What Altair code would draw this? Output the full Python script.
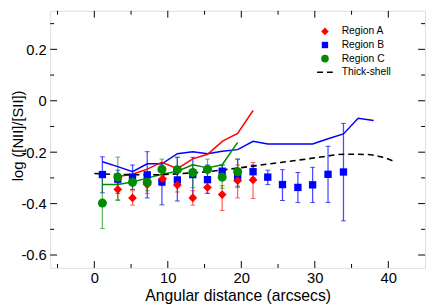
import altair as alt
import pandas as pd

# ---------------- data ----------------
# Region A (red diamonds)
a_x = [3.2, 5.2, 7.2, 9.3, 11.3, 13.4, 15.4, 17.4, 19.5, 21.6]
a_y = [-0.345, -0.378, -0.326, -0.303, -0.328, -0.378, -0.337, -0.365, -0.311, -0.308]
a_hi = [-0.320, -0.350, -0.295, -0.270, -0.300, -0.350, -0.310, -0.330, -0.250, -0.240]
a_lo = [-0.385, -0.406, -0.360, -0.330, -0.355, -0.406, -0.360, -0.427, -0.378, -0.380]

# Region B (blue squares)
b_x = [1.1, 3.2, 5.2, 7.2, 9.2, 11.3, 13.4, 15.4, 17.4, 19.5, 21.6, 23.6, 25.6, 27.7, 29.7, 31.8, 33.9]
b_y = [-0.287, -0.305, -0.297, -0.288, -0.316, -0.308, -0.287, -0.307, -0.274, -0.299, -0.276, -0.297, -0.326, -0.337, -0.327, -0.286, -0.277]
b_hi = [-0.218, -0.270, -0.250, -0.198, -0.250, -0.220, -0.220, -0.250, -0.250, -0.227, -0.250, -0.270, -0.268, -0.279, -0.259, -0.177, -0.088]
b_lo = [-0.358, -0.360, -0.345, -0.378, -0.405, -0.390, -0.370, -0.360, -0.300, -0.336, -0.300, -0.326, -0.388, -0.396, -0.396, -0.396, -0.467]

# Region C (green circles)
c_x = [1.1, 3.2, 5.2, 7.2, 9.2, 11.3, 13.4, 15.4, 17.4, 19.5]
c_y = [-0.398, -0.297, -0.317, -0.317, -0.267, -0.268, -0.279, -0.267, -0.297, -0.276]
c_hi = [-0.290, -0.219, -0.290, -0.290, -0.227, -0.220, -0.250, -0.227, -0.250, -0.227]
c_lo = [-0.497, -0.388, -0.345, -0.350, -0.289, -0.326, -0.338, -0.300, -0.340, -0.332]

# Lines (no markers)
bl_x = [1.1, 3.2, 5.2, 7.2, 9.2, 11.3, 13.4, 15.4, 17.4, 19.5, 21.6, 23.6, 25.6, 27.7, 29.7, 31.8, 33.9, 35.9, 38.0]
bl_y = [-0.237, -0.256, -0.276, -0.245, -0.245, -0.206, -0.198, -0.206, -0.196, -0.190, -0.158, -0.168, -0.168, -0.168, -0.168, -0.148, -0.129, -0.068, -0.077]

rl_x = [3.2, 5.2, 7.2, 9.2, 11.3, 13.4, 15.4, 17.5, 19.5, 21.6]
rl_y = [-0.295, -0.286, -0.266, -0.239, -0.264, -0.226, -0.208, -0.156, -0.127, -0.038]

gl_x = [1.1, 3.2, 5.2, 7.2, 9.2, 11.3, 13.4, 15.4, 17.4, 19.5]
gl_y = [-0.326, -0.326, -0.316, -0.301, -0.286, -0.274, -0.249, -0.261, -0.249, -0.162]

# Thick-shell model (dashed)
t_x = [0, 4, 8, 12, 16, 20, 24, 28, 31, 34, 37, 39, 41]
t_y = [-0.283, -0.287, -0.288, -0.283, -0.274, -0.260, -0.245, -0.230, -0.218, -0.208, -0.209, -0.218, -0.238]

legend_labels = ["Region A", "Region B", "Region C", "Thick-shell"]

x_major = [0, 10, 20, 30, 40]
x_minor = [-5, 5, 15, 25, 35]
y_major = [-0.6, -0.4, -0.2, 0, 0.2]
y_minor = [-0.5, -0.3, -0.1, 0.1, 0.3]

# ---------------- chart ----------------
W, H = 382, 262
FONT = "Liberation Sans"
RED, BLUE, GREEN = "#ff0000", "#0000ff", "#008b00"

xs = alt.Scale(domain=[-6, 45], nice=False, zero=False)
ys = alt.Scale(domain=[-0.65, 0.35], nice=False, zero=False)
XT = "Angular distance (arcsecs)"
YT = "log ([NII]/[SII])"

xaxis = alt.Axis(values=x_major, ticks=False, domain=False, grid=False,
                 labelPadding=3, labelFontSize=15, labelFont=FONT, labelColor="black",
                 titleFontSize=16, titleFont=FONT, titleColor="black",
                 titleFontWeight="normal", titlePadding=2)
yaxis = alt.Axis(values=y_major, ticks=False, domain=False, grid=False,
                 labelPadding=4, labelFontSize=15, labelFont=FONT, labelColor="black",
                 labelExpr="datum.value == 0 ? '0' : (datum.value < 0 ? '-' + format(-datum.value, '.1f') : format(datum.value, '.1f'))",
                 titleFontSize=15, titleFont=FONT, titleColor="black",
                 titleFontWeight="normal", titleX=-33, titleY=127, titleBaseline="middle")


def X(f="x"):
    return alt.X(f, type="quantitative", scale=xs, axis=xaxis, title=XT)


def Y(f="y"):
    return alt.Y(f, type="quantitative", scale=ys, axis=yaxis, title=YT)


def pts(xv, yv, lo=None, hi=None):
    d = {"x": xv, "y": yv}
    if lo is not None:
        d["lo"] = lo
        d["hi"] = hi
    return pd.DataFrame(d)


dA = pts(a_x, a_y, a_lo, a_hi)
dB = pts(b_x, b_y, b_lo, b_hi)
dC = pts(c_x, c_y, c_lo, c_hi)

layers = []


def errbars(df, color, op):
    base = alt.Chart(df)
    r = base.mark_rule(color=color, strokeWidth=1.3, opacity=op).encode(x=X(), y=Y("lo"), y2="hi")
    t1 = base.mark_tick(color=color, orient="horizontal", size=5, thickness=1, opacity=op).encode(x=X(), y=Y("lo"))
    t2 = base.mark_tick(color=color, orient="horizontal", size=5, thickness=1, opacity=op).encode(x=X(), y=Y("hi"))
    return [r, t1, t2]


layers += errbars(dB, BLUE, 0.7)
layers += errbars(dA, RED, 0.6)
layers += errbars(dC, GREEN, 0.6)

layers.append(alt.Chart(pts(bl_x, bl_y)).mark_line(color=BLUE, strokeWidth=1.5).encode(x=X(), y=Y()))
layers.append(alt.Chart(pts(rl_x, rl_y)).mark_line(color=RED, strokeWidth=1.5).encode(x=X(), y=Y()))
layers.append(alt.Chart(pts(gl_x, gl_y)).mark_line(color=GREEN, strokeWidth=1.5).encode(x=X(), y=Y()))
layers.append(alt.Chart(pts(t_x, t_y)).mark_line(color="black", strokeWidth=1.6, strokeDash=[6, 4],
                                                  interpolate="monotone").encode(x=X(), y=Y()))

layers.append(alt.Chart(dB).mark_point(shape="square", filled=True, size=56, color=BLUE, opacity=1).encode(x=X(), y=Y()))
layers.append(alt.Chart(dA).mark_point(shape="diamond", filled=True, size=80, color=RED, opacity=1).encode(x=X(), y=Y()))
layers.append(alt.Chart(dC).mark_point(shape="circle", filled=True, size=85, color=GREEN, opacity=1).encode(x=X(), y=Y()))

# inside ticks on all four sides
dxM = pd.DataFrame({"x": x_major})
dxm = pd.DataFrame({"x": x_minor})
dyM = pd.DataFrame({"y": y_major})
dym = pd.DataFrame({"y": y_minor})
for d, L in ((dxM, 7), (dxm, 4)):
    layers.append(alt.Chart(d).mark_rule(color="black", strokeWidth=1).encode(x=X(), y=alt.value(H), y2=alt.value(H - L)))
    layers.append(alt.Chart(d).mark_rule(color="black", strokeWidth=1).encode(x=X(), y=alt.value(0), y2=alt.value(L)))
for d, L in ((dyM, 7), (dym, 4)):
    layers.append(alt.Chart(d).mark_rule(color="black", strokeWidth=1).encode(y=Y(), x=alt.value(0), x2=alt.value(L)))
    layers.append(alt.Chart(d).mark_rule(color="black", strokeWidth=1).encode(y=Y(), x=alt.value(W), x2=alt.value(W - L)))

# legend
leg = pd.DataFrame({"label": legend_labels, "row": list(range(len(legend_labels)))})
legb = alt.Chart(leg).transform_calculate(ly="21 + datum.row * 13.9")
layers.append(legb.mark_text(align="left", baseline="middle", font=FONT, fontSize=10.5, color="black").encode(
    x=alt.value(297), y=alt.Y("ly:Q", scale=None), text="label:N"))
legA = legb.transform_filter("datum.row == 0")
legB = legb.transform_filter("datum.row == 1")
legC = legb.transform_filter("datum.row == 2")
legT = legb.transform_filter("datum.row == 3")
layers.append(legA.mark_point(shape="diamond", filled=True, size=60, color=RED, opacity=1).encode(
    x=alt.value(280), y=alt.Y("ly:Q", scale=None)))
layers.append(legB.mark_point(shape="square", filled=True, size=42, color=BLUE, opacity=1).encode(
    x=alt.value(280), y=alt.Y("ly:Q", scale=None)))
layers.append(legC.mark_point(shape="circle", filled=True, size=60, color=GREEN, opacity=1).encode(
    x=alt.value(280), y=alt.Y("ly:Q", scale=None)))
layers.append(legT.mark_rule(color="black", strokeWidth=1.6, strokeDash=[6, 4]).encode(
    x=alt.value(272), x2=alt.value(288), y=alt.Y("ly:Q", scale=None)))

chart = alt.layer(*layers).properties(
    width=W, height=H,
    padding={"left": 43, "top": 0, "right": 3, "bottom": 35},
    autosize=alt.AutoSizeParams(type="none"),
).configure_view(stroke="black", strokeWidth=1.2).configure(background="white")

chart.save("out.html", embed_options={"renderer": "svg", "actions": False})
